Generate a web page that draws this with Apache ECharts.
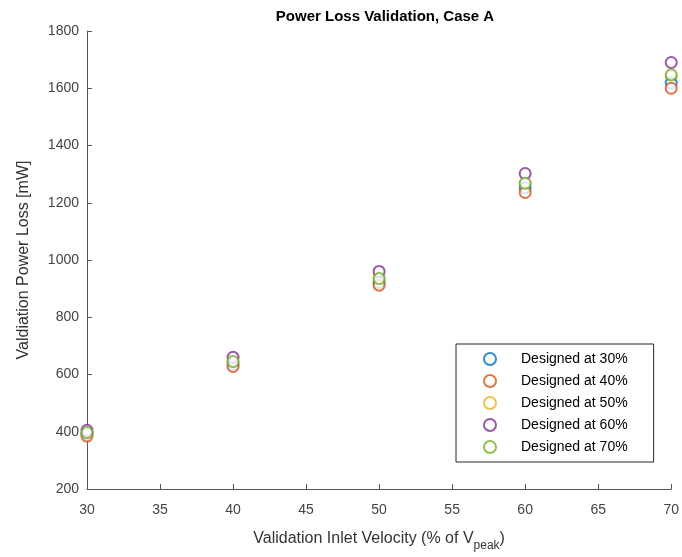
<!DOCTYPE html>
<html><head><meta charset="utf-8">
<script src="https://cdn.jsdelivr.net/npm/echarts@6/dist/echarts.min.js"></script>
<style>html,body{margin:0;padding:0;background:#fff;overflow:hidden}#c{width:682px;height:557px}</style>
</head><body><div id="c"></div>
<script>
const velocities = [30, 40, 50, 60, 70];
const seriesNames = ['Designed at 30%', 'Designed at 40%', 'Designed at 50%', 'Designed at 60%', 'Designed at 70%'];
const d30 = [392, 635, 922, 1252, 1618];
const d40 = [385, 628, 912, 1236, 1600];
const d50 = [396, 645, 938, 1268, 1642];
const d60 = [405, 660, 960, 1302, 1690];
const d70 = [397, 645, 935, 1268, 1647];
const colors = ['#0072BD', '#D95319', '#EDB120', '#7E2F8E', '#77AC30'];
const allData = [d30, d40, d50, d60, d70];

const chart = echarts.init(document.getElementById('c'));
chart.setOption({
  animation: false,
  title: {
    text: 'Power Loss Validation, Case A',
    left: 380, top: 4, textAlign: 'center',
    textStyle: {fontFamily: 'Liberation Sans', fontSize: 15, fontWeight: 'bold', color: '#000'}
  },
  grid: {left: 87, right: 6, top: 31, bottom: 68, containLabel: false},
  legend: {
    orient: 'vertical', left: 456, top: 344,
    padding: [8, 26, 8, 27],
    itemGap: 8, itemWidth: 12, itemHeight: 12,
    backgroundColor: '#fff', borderColor: '#262626', borderWidth: 1,
    textStyle: {fontFamily: 'Liberation Sans', fontSize: 14, color: '#000', padding: [0, 0, 0, 20]},
    data: seriesNames.map(n => ({name: n, icon: 'emptyCircle'}))
  },
  xAxis: {
    type: 'value', min: 30, max: 70, interval: 5,
    name: '{n|Validation Inlet Velocity (% of V}{s|peak}{n|)}',
    nameLocation: 'middle', nameGap: 37,
    nameTextStyle: {rich: {
      n: {fontFamily: 'Liberation Sans', fontSize: 16, color: '#333'},
      s: {fontFamily: 'Liberation Sans', fontSize: 12, color: '#333', verticalAlign: 'bottom', padding: [14, 0, 0, 0]}
    }},
    axisLine: {show: true, lineStyle: {color: '#555', width: 1}},
    axisTick: {show: true, inside: true, length: 5, lineStyle: {color: '#555'}},
    axisLabel: {fontFamily: 'Liberation Sans', fontSize: 14, color: '#444', margin: 14},
    splitLine: {show: false}
  },
  yAxis: {
    type: 'value', min: 200, max: 1800, interval: 200,
    name: 'Valdiation Power Loss [mW]',
    nameLocation: 'middle', nameGap: 55,
    nameTextStyle: {fontFamily: 'Liberation Sans', fontSize: 16, color: '#333'},
    axisLine: {show: true, lineStyle: {color: '#555', width: 1}},
    axisTick: {show: true, inside: true, length: 5, lineStyle: {color: '#555'}},
    axisLabel: {fontFamily: 'Liberation Sans', fontSize: 14, color: '#444', margin: 8, formatter: v => String(v)},
    splitLine: {show: false}
  },
  series: seriesNames.map((n, i) => ({
    name: n, type: 'scatter', symbol: 'emptyCircle', symbolSize: 11,
    itemStyle: {color: colors[i], borderColor: colors[i], borderWidth: 1.5},
    data: velocities.map((v, j) => [v, allData[i][j]]),
    z: i === 2 ? 1 : 2
  }))
});
</script></body></html>
